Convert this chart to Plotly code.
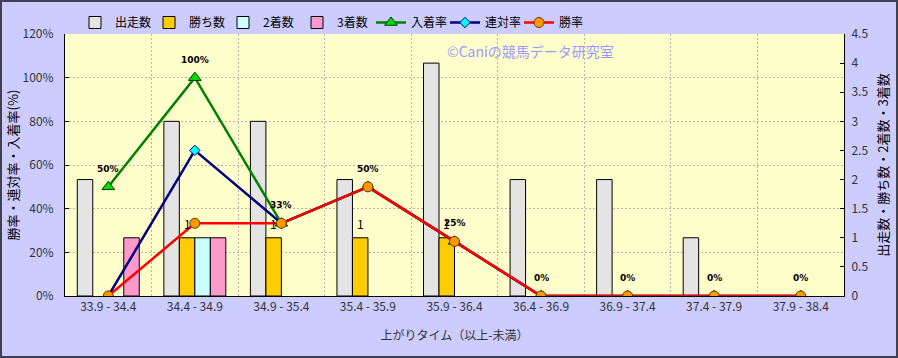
import plotly.graph_objects as go

categories = ["33.9 - 34.4", "34.4 - 34.9", "34.9 - 35.4", "35.4 - 35.9", "35.9 - 36.4",
              "36.4 - 36.9", "36.9 - 37.4", "37.4 - 37.9", "37.9 - 38.4"]
runs = [2, 3, 3, 2, 4, 2, 2, 1, 0]
wins = [0, 1, 1, 1, 1, 0, 0, 0, 0]
seconds = [0, 1, 0, 0, 0, 0, 0, 0, 0]
thirds = [1, 1, 0, 0, 0, 0, 0, 0, 0]
place_rate = [50, 100, 33.3, 50, 25, 0, 0, 0, 0]
quinella_rate = [0, 66.7, 33.3, 50, 25, 0, 0, 0, 0]
win_rate = [0, 33.3, 33.3, 50, 25, 0, 0, 0, 0]

FONT = "Noto Sans CJK JP, Noto Sans, sans-serif"
L, R, T, B = 65, 54, 34, 62
W, H = 898, 358
PW, PH = W - L - R, H - T - B
GRID = "#B4B4B4"

fig = go.Figure()

bar_specs = [
    ("出走数", runs, "#E4E4E4"),
    ("勝ち数", wins, "#FFCC00"),
    ("2着数", seconds, "#CCFFFF"),
    ("3着数", thirds, "#FF99CC"),
]
for name, vals, col in bar_specs:
    fig.add_trace(go.Bar(
        x=categories, y=[v if v else None for v in vals], name=name, yaxis="y",
        marker=dict(color=col, line=dict(color="#000000", width=1)),
    ))

line_specs = [
    ("入着率", place_rate, "#008000", dict(symbol="triangle-up", size=11, color="#00E000",
                                        line=dict(color="#003300", width=1))),
    ("連対率", quinella_rate, "#000080", dict(symbol="diamond", size=8, color="#00FFFF",
                                         line=dict(color="#000080", width=1))),
    ("勝率", win_rate, "#FF0000", dict(symbol="circle", size=10, color="#FF9900",
                                    line=dict(color="#663300", width=1))),
]
for name, vals, col, mk in line_specs:
    fig.add_trace(go.Scatter(
        x=categories, y=vals, name=name, yaxis="y2", mode="lines+markers",
        line=dict(color=col, width=2.5), marker=mk,
    ))

annotations = []
# 入着率 data labels
for i, v in enumerate(place_rate):
    annotations.append(dict(
        x=i, y=v, xref="x", yref="y2", text=f"{v:.0f}%", showarrow=False,
        yshift=18, font=dict(family="DejaVu Sans", size=9, color="#000000", weight="bold"),
    ))
# win count labels above win bars
n_bars = 4
bargap = 0.284
bw = (1 - bargap) / n_bars
win_offset = -(1 - bargap) / 2 + 1.5 * bw
for i, v in enumerate(wins):
    if v > 0:
        annotations.append(dict(
            x=i + win_offset, y=v, xref="x", yref="y", text=str(v), showarrow=False,
            yshift=14, font=dict(family=FONT, size=12, color="#000000"),
        ))
# watermark
annotations.append(dict(
    x=(445 - L) / PW, y=(H - B - 51) / PH, xref="paper", yref="paper",
    xanchor="left", yanchor="middle", showarrow=False,
    text="©Caniの競馬データ研究室", font=dict(family=FONT, size=14, color="#9999FF"),
))

shapes = [dict(
    type="rect", xref="paper", yref="paper",
    x0=(1 - L) / PW, x1=(W - 1 - L) / PW,
    y0=(H - B - (H - 1)) / PH, y1=(H - B - 1) / PH,
    line=dict(color="#404050", width=2), fillcolor="rgba(0,0,0,0)", layer="above",
)]

fig.update_layout(
    width=W, height=H,
    margin=dict(l=L, r=R, t=T, b=B, autoexpand=False),
    paper_bgcolor="#CCCCFF", plot_bgcolor="#FFFFCC",
    font=dict(family=FONT, size=12, color="#333333"),
    barmode="group", bargap=bargap, bargroupgap=0,
    showlegend=True,
    legend=dict(orientation="h", x=(75 - L) / PW, y=(H - B - 8) / PH,
                xanchor="left", yanchor="top", bgcolor="rgba(0,0,0,0)",
                font=dict(family=FONT, size=12, color="#000000"),
                itemwidth=30, tracegroupgap=0,
                entrywidth=29, entrywidthmode="pixels"),
    xaxis=dict(
        type="category", tickson="boundaries", ticks="", automargin=False,
        showgrid=True, gridcolor=GRID, griddash="2px,2px", gridwidth=1,
        showline=True, linecolor="#000000", linewidth=1,
        tickfont=dict(family=FONT, size=12, color="#333333"),
        title=dict(text="上がりタイム（以上-未満）", standoff=18,
                   font=dict(family=FONT, size=12, color="#333333")),
        range=[-0.5, 8.5],
    ),
    yaxis=dict(
        side="right", range=[0, 4.5], dtick=0.5, showgrid=False, automargin=False,
        ticks="inside", ticklen=4, tickcolor="#000000",
        showline=True, linecolor="#000000", linewidth=1, zeroline=False,
        tickfont=dict(family=FONT, size=12, color="#333333"),
        ticklabelstandoff=4,
        title=dict(text="出走数・勝ち数・2着数・3着数", standoff=11,
                   font=dict(family=FONT, size=13, color="#000000")),
    ),
    yaxis2=dict(
        side="left", overlaying="y", range=[0, 120], dtick=20, ticksuffix="%",
        automargin=False,
        showgrid=True, gridcolor=GRID, griddash="2px,2px", gridwidth=1,
        ticks="inside", ticklen=4, tickcolor="#000000",
        showline=True, linecolor="#000000", linewidth=1, zeroline=False,
        tickfont=dict(family=FONT, size=12, color="#333333"),
        ticklabelstandoff=8,
        title=dict(text="勝率・連対率・入着率(%)", standoff=1,
                   font=dict(family=FONT, size=13, color="#000000")),
    ),
    annotations=annotations,
    shapes=shapes,
)

fig.write_html("out.html")
